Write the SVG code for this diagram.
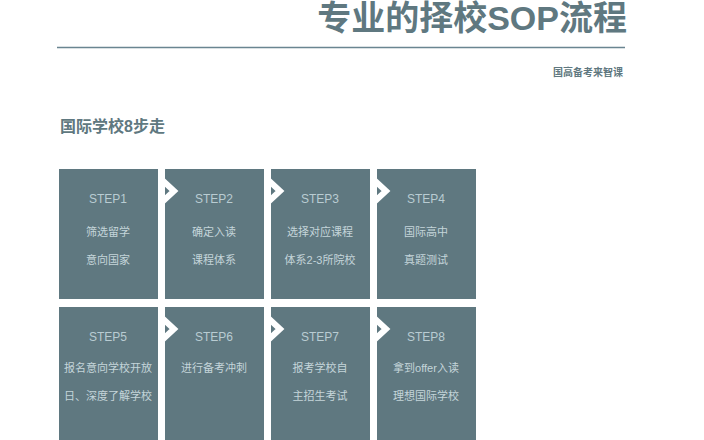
<svg xmlns="http://www.w3.org/2000/svg" width="704" height="440" viewBox="0 0 704 440">
<style>
.t{font-family:"Liberation Sans","Noto Sans CJK SC",sans-serif;}
.box{fill:#5f7880}
.s{font-size:12px;fill:#b9ccd2;text-anchor:middle}
.c{font-size:11px;fill:#c4d5da;text-anchor:middle}
.chev{fill:none;stroke:#fff;stroke-width:6;stroke-linejoin:miter}
</style>
<rect width="704" height="440" fill="#fff"/>
<text class="t" x="627" y="30" font-size="34" font-weight="bold" fill="#5f7880" text-anchor="end">专业的择校SOP流程</text>
<line x1="57" y1="47.5" x2="625" y2="47.5" stroke="#6a8591" stroke-width="1.5"/>
<text class="t" x="623" y="76" font-size="10" font-weight="bold" fill="#5f7880" text-anchor="end">国高备考来智课</text>
<text class="t" x="60" y="132" font-size="16" font-weight="bold" fill="#5f7880">国际学校8步走</text>
<g id="step1"><rect class="box" x="59" y="169" width="99" height="130"/><text class="t s" x="108" y="203">STEP1</text><text class="t c" x="108" y="236">筛选留学</text><text class="t c" x="108" y="264">意向国家</text></g>
<g id="step2"><rect class="box" x="165" y="169" width="99" height="130"/><text class="t s" x="214" y="203">STEP2</text><text class="t c" x="214" y="236">确定入读</text><text class="t c" x="214" y="264">课程体系</text></g>
<g id="step3"><rect class="box" x="271" y="169" width="99" height="130"/><text class="t s" x="320" y="203">STEP3</text><text class="t c" x="320" y="236">选择对应课程</text><text class="t c" x="320" y="264">体系2-3所院校</text></g>
<g id="step4"><rect class="box" x="377" y="169" width="99" height="130"/><text class="t s" x="426" y="203">STEP4</text><text class="t c" x="426" y="236">国际高中</text><text class="t c" x="426" y="264">真题测试</text></g>
<g id="step5"><rect class="box" x="59" y="307" width="99" height="133"/><text class="t s" x="108" y="341">STEP5</text><text class="t c" x="108" y="372">报名意向学校开放</text><text class="t c" x="108" y="400">日、深度了解学校</text></g>
<g id="step6"><rect class="box" x="165" y="307" width="99" height="133"/><text class="t s" x="214" y="341">STEP6</text><text class="t c" x="214" y="372">进行备考冲刺</text></g>
<g id="step7"><rect class="box" x="271" y="307" width="99" height="133"/><text class="t s" x="320" y="341">STEP7</text><text class="t c" x="320" y="372">报考学校自</text><text class="t c" x="320" y="400">主招生考试</text></g>
<g id="step8"><rect class="box" x="377" y="307" width="99" height="133"/><text class="t s" x="426" y="341">STEP8</text><text class="t c" x="426" y="372">拿到offer入读</text><text class="t c" x="426" y="400">理想国际学校</text></g>
<g id="connectors">
<polyline class="chev" points="161,179 174,191 161,203"/>
<polyline class="chev" points="267,179 280,191 267,203"/>
<polyline class="chev" points="373,179 386,191 373,203"/>
<polyline class="chev" points="161,317 174,329 161,341"/>
<polyline class="chev" points="267,317 280,329 267,341"/>
<polyline class="chev" points="373,317 386,329 373,341"/>
</g>
</svg>
